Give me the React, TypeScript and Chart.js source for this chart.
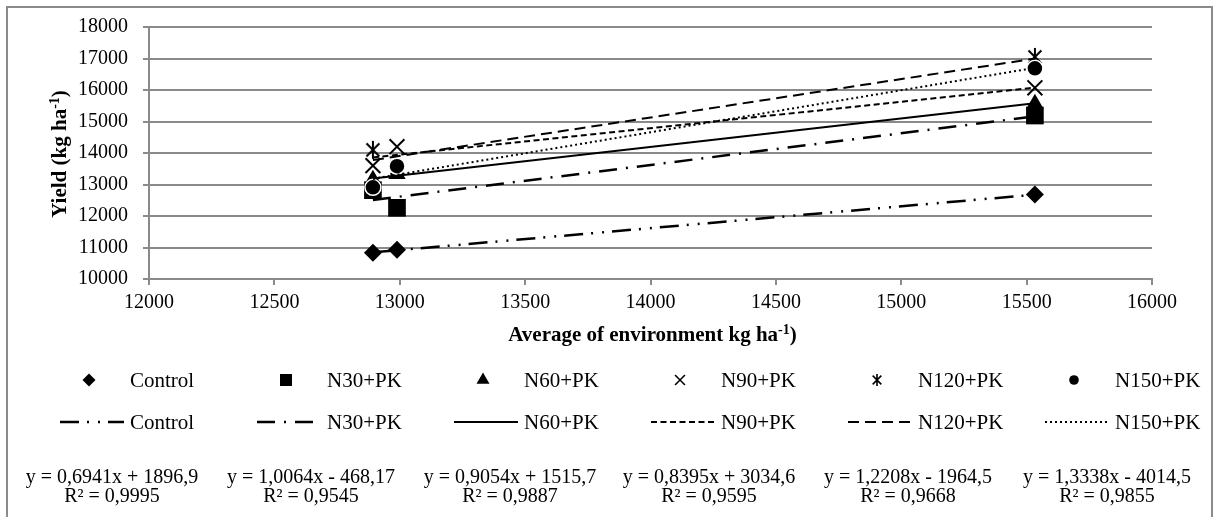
import React, { useEffect, useRef } from "react";
import { Chart, registerables } from "chart.js";
import { drawPoint } from "chart.js/helpers";

Chart.register(...registerables);

const FONT = "'Liberation Serif', 'Times New Roman', serif";

// ---- data ----
const seriesNames = ["Control", "N30+PK", "N60+PK", "N90+PK", "N120+PK", "N150+PK"];
const environmentMeans = [12893, 12989, 15533];
const controlYield = [10830, 10930, 12680];
const n30Yield = [12820, 12260, 15190];
const n60Yield = [13150, 13330, 15560];
const n90Yield = [13600, 14200, 16070];
const n120Yield = [14100, 13520, 17050];
const n150Yield = [12910, 13580, 16690];
const trendSlopes = [0.6941, 1.0064, 0.9054, 0.8395, 1.2208, 1.3338];
const trendIntercepts = [1896.9, -468.17, 1515.7, 3034.6, -1964.5, -4014.5];
const equationLabels = [
  "y = 0,6941x + 1896,9",
  "y = 1,0064x - 468,17",
  "y = 0,9054x + 1515,7",
  "y = 0,8395x + 3034,6",
  "y = 1,2208x - 1964,5",
  "y = 1,3338x - 4014,5",
];
const r2Labels = ["R² = 0,9995", "R² = 0,9545", "R² = 0,9887", "R² = 0,9595", "R² = 0,9668", "R² = 0,9855"];
const xAxisMin = 12000;
const xAxisMax = 16000;
const xAxisStep = 500;
const yAxisMin = 10000;
const yAxisMax = 18000;
const yAxisStep = 1000;

const yieldSeries = [controlYield, n30Yield, n60Yield, n90Yield, n120Yield, n150Yield];

// ---- styles ----
const lineDashes: number[][] = [
  [19, 8, 2, 9, 2, 8],
  [18, 9, 2, 9],
  [],
  [6, 3.5],
  [11, 6],
  [2, 3],
];
const lineWidths = [2.5, 2.5, 2, 2, 2, 2];
const GRID = "#8a8a8a";

function makeAsterisk(size: number, lw: number) {
  const c = document.createElement("canvas");
  c.width = size;
  c.height = size;
  const g = c.getContext("2d")!;
  g.strokeStyle = "#000";
  g.lineWidth = lw;
  const m = size / 2;
  const r = size / 2 - 1;
  const d = r * 0.72;
  g.beginPath();
  g.moveTo(m - d, m - d);
  g.lineTo(m + d, m + d);
  g.moveTo(m + d, m - d);
  g.lineTo(m - d, m + d);
  g.moveTo(m, m - r);
  g.lineTo(m, m + r);
  g.stroke();
  return c;
}

export default function App() {
  const ref = useRef<HTMLCanvasElement | null>(null);

  useEffect(() => {
    const canvas = ref.current!;
    const asteriskBig = makeAsterisk(20, 2);
    const asteriskSmall = makeAsterisk(14, 1.6);

    const plotStyles: any[] = [
      { pointStyle: "rectRot", radius: 9, borderWidth: 0 },
      { pointStyle: "rect", radius: 12.5, borderWidth: 0 },
      { pointStyle: "triangle", radius: 10, borderWidth: 0 },
      { pointStyle: "crossRot", radius: 10.5, borderWidth: 2 },
      { pointStyle: asteriskBig, radius: 10, borderWidth: 2 },
      { pointStyle: "circle", radius: 8, borderWidth: 1.5 },
    ];
    const legendStyles: any[] = [
      { pointStyle: "rectRot", radius: 6.5, borderWidth: 0 },
      { pointStyle: "rect", radius: 8.5, borderWidth: 0 },
      { pointStyle: "triangle", radius: 7.5, borderWidth: 0 },
      { pointStyle: "crossRot", radius: 7, borderWidth: 1.6 },
      { pointStyle: asteriskSmall, radius: 7, borderWidth: 1.6 },
      { pointStyle: "circle", radius: 4.8, borderWidth: 0 },
    ];

    const xMin = Math.min(...environmentMeans);
    const xMax = Math.max(...environmentMeans);

    const markerSets = seriesNames.map((name, i) => ({
      label: name,
      data: environmentMeans.map((x, k) => ({ x, y: yieldSeries[i][k] })),
      showLine: false,
      pointStyle: plotStyles[i].pointStyle,
      pointRadius: plotStyles[i].radius,
      pointBackgroundColor: "#000",
      pointBorderColor: i === 5 ? "#fff" : "#000",
      pointBorderWidth: plotStyles[i].borderWidth,
      order: 20 - i,
    }));

    const trendSets = seriesNames.map((name, i) => ({
      label: "Linear (" + name + ")",
      data: [xMin, xMax].map((x) => ({ x, y: trendSlopes[i] * x + trendIntercepts[i] })),
      showLine: true,
      pointRadius: 0,
      borderColor: "#000",
      borderWidth: lineWidths[i],
      borderDash: lineDashes[i],
      borderCapStyle: "butt",
      order: 10 - i,
    }));

    const textStarts = seriesNames.map((_, i) => 130 + 197 * i);
    const eqCenters = seriesNames.map((_, i) => 112 + 199 * i);
    const titleY = 334;
    const row1Y = 380;
    const row2Y = 422;
    const eqY = 478;
    const r2Y = 497;

    const drawSupTitle = (
      ctx: CanvasRenderingContext2D,
      main: string,
      sup: string,
      tail: string,
      cx: number,
      cy: number,
      rotate: boolean
    ) => {
      ctx.save();
      ctx.translate(cx, cy);
      if (rotate) ctx.rotate(-Math.PI / 2);
      const big = "bold 21px " + FONT;
      const small = "bold 14px " + FONT;
      ctx.font = big;
      const w1 = ctx.measureText(main).width;
      const w3 = ctx.measureText(tail).width;
      ctx.font = small;
      const w2 = ctx.measureText(sup).width;
      const total = w1 + w2 + w3;
      let x = -total / 2;
      ctx.fillStyle = "#000";
      ctx.textBaseline = "alphabetic";
      ctx.textAlign = "left";
      ctx.font = big;
      ctx.fillText(main, x, 7);
      x += w1;
      ctx.font = small;
      ctx.fillText(sup, x, -0.5);
      x += w2;
      ctx.font = big;
      ctx.fillText(tail, x, 7);
      ctx.restore();
    };

    const decor = {
      id: "decor",
      beforeDraw(chart: any) {
        const ctx = chart.ctx;
        ctx.save();
        ctx.fillStyle = "#fff";
        ctx.fillRect(0, 0, chart.width, chart.height);
        ctx.restore();
      },
      afterDraw(chart: any) {
        const ctx: CanvasRenderingContext2D = chart.ctx;
        ctx.save();
        ctx.strokeStyle = GRID;
        ctx.lineWidth = 2;
        ctx.strokeRect(7, 7, 1205, 530);

        const area = chart.chartArea;
        drawSupTitle(ctx, "Yield (kg ha", "-1", ")", 59, (area.top + area.bottom) / 2 + 1, true);
        drawSupTitle(ctx, "Average of environment kg ha", "-1", ")", (area.left + area.right) / 2 + 2, titleY, false);

        ctx.font = "21px " + FONT;
        ctx.textBaseline = "middle";
        ctx.textAlign = "left";
        seriesNames.forEach((name, i) => {
          const ls = legendStyles[i];
          ctx.fillStyle = "#000";
          ctx.strokeStyle = "#000";
          ctx.lineWidth = ls.borderWidth;
          ctx.setLineDash([]);
          drawPoint(ctx, { pointStyle: ls.pointStyle, radius: ls.radius, borderWidth: ls.borderWidth, rotation: 0 } as any, textStarts[i] - 41, row1Y);
          ctx.fillStyle = "#000";
          ctx.fillText(name, textStarts[i], row1Y + 1);
        });
        seriesNames.forEach((name, i) => {
          ctx.strokeStyle = "#000";
          ctx.lineWidth = lineWidths[i];
          ctx.lineCap = "butt";
          ctx.setLineDash(lineDashes[i]);
          ctx.beginPath();
          ctx.moveTo(textStarts[i] - 70, row2Y);
          ctx.lineTo(textStarts[i] - 6, row2Y);
          ctx.stroke();
          ctx.setLineDash([]);
          ctx.fillStyle = "#000";
          ctx.fillText(name, textStarts[i], row2Y + 1);
        });
        ctx.font = "20px " + FONT;
        ctx.textAlign = "center";
        equationLabels.forEach((t, i) => {
          ctx.fillText(t, eqCenters[i], eqY);
          ctx.fillText(r2Labels[i], eqCenters[i], r2Y);
        });
        ctx.restore();
      },
    };

    const chart = new Chart(canvas, {
      type: "scatter",
      data: { datasets: [...markerSets, ...trendSets] as any },
      options: {
        responsive: false,
        animation: false,
        devicePixelRatio: 1,
        layout: { padding: { left: 0, top: 19, right: 65, bottom: 0 } },
        plugins: { legend: { display: false }, tooltip: { enabled: false } },
        scales: {
          x: {
            type: "linear",
            min: xAxisMin,
            max: xAxisMax,
            afterFit: (s: any) => {
              s.height = 517 - 19 - 260;
            },
            ticks: {
              stepSize: xAxisStep,
              color: "#000",
              font: { family: FONT, size: 20 },
              padding: 6,
              maxRotation: 0,
              callback: (v: any) => String(v),
            },
            grid: { drawOnChartArea: false, drawTicks: true, tickLength: 6, color: GRID, lineWidth: 2 },
            border: { display: true, color: GRID, width: 2 },
          },
          y: {
            type: "linear",
            min: yAxisMin,
            max: yAxisMax,
            afterFit: (s: any) => {
              s.width = 149;
            },
            ticks: {
              stepSize: yAxisStep,
              color: "#000",
              font: { family: FONT, size: 20 },
              padding: 15,
              callback: (v: any) => String(v),
            },
            grid: { drawOnChartArea: true, drawTicks: true, tickLength: 6, color: GRID, lineWidth: 2 },
            border: { display: true, color: GRID, width: 2 },
          },
        },
      },
      plugins: [decor],
    });
    return () => chart.destroy();
  }, []);

  return (
    <div style={{ position: "fixed", left: 0, top: 0, width: 1217, height: 517, background: "#fff" }}>
      <canvas ref={ref} width={1217} height={517} style={{ display: "block" }} />
    </div>
  );
}
